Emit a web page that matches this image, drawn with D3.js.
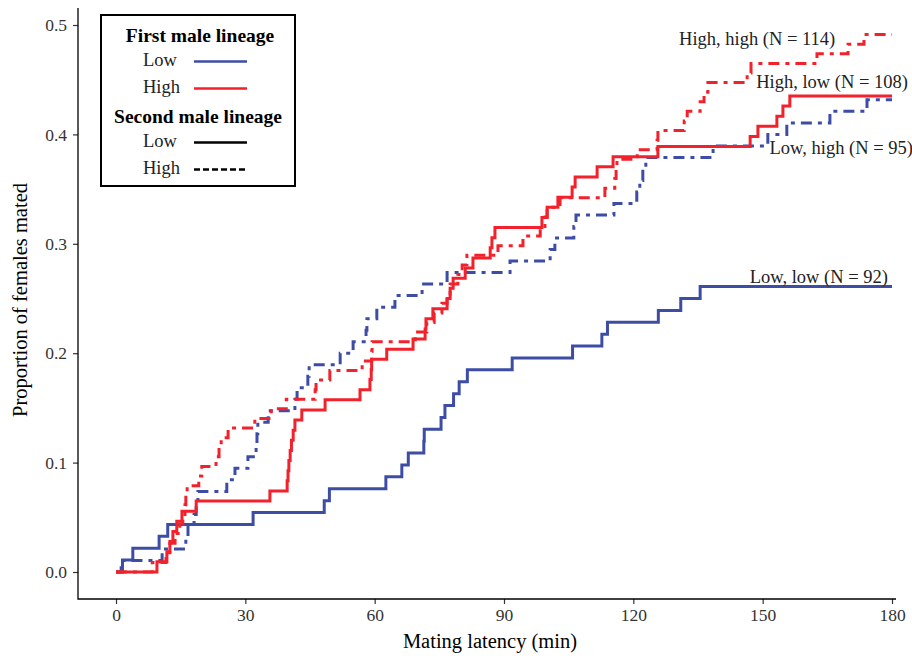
<!DOCTYPE html>
<meta charset="utf-8">
<head>
  <title>Mating latency curves</title>
</head>
<style>
body { margin: 0; background: white; }
svg text { font-family: "Liberation Serif", "Times New Roman", serif; }
</style>
<body>
<svg width="912" height="656"></svg>
<script src="https://cdnjs.cloudflare.com/ajax/libs/d3/7.8.5/d3.min.js"></script>
<script>
// mating times (min) of each female, one entry per event
var lowLow = [1.5, 3.9, 10.0, 12.0, 31.8, 48.3, 49.5, 62.6, 66.3, 67.8, 71.4, 71.5, 75.4, 76.3,
  78.3, 79.6, 81.5, 91.9, 105.9, 112.7, 114.0, 125.8, 131.0, 135.5];
var lowHigh = [1.2, 10.7, 16.2, 16.7, 18.1, 18.6, 19.0, 25.7, 27.6, 30.6, 32.5, 32.7, 32.9, 35.3,
  41.5, 42.0, 44.5, 44.8, 52.0, 55.0, 58.0, 58.2, 60.5, 64.7, 71.0, 76.8, 91.4, 100.7, 101.8,
  106.2, 106.7, 115.5, 120.8, 121.5, 122.2, 122.9, 138.5, 151.2, 155.6, 165.6, 174.2];
var highLow = [9.5, 11.8, 12.5, 13.2, 14.1, 15.3, 18.6, 35.7, 39.7, 39.9, 40.1, 40.4, 40.7, 41.1,
  41.5, 43.1, 48.5, 56.6, 58.9, 59.2, 59.3, 62.8, 68.9, 71.7, 71.9, 73.5, 76.8, 77.5, 78.2, 81.0,
  82.8, 86.8, 87.2, 87.9, 98.8, 100.0, 102.5, 105.8, 106.5, 111.6, 115.3, 125.7, 147.1, 148.9,
  153.3, 154.7, 156.3];
var highHigh = [8.4, 11.6, 12.5, 13.7, 14.8, 15.5, 16.0, 16.2, 16.5, 19.2, 19.9, 23.2, 23.9, 24.4,
  26.0, 32.2, 36.0, 39.5, 46.2, 46.4, 49.6, 57.1, 59.3, 59.4, 69.4, 72.1, 73.8, 75.6, 76.8, 77.5,
  79.3, 80.3, 81.4, 88.6, 94.4, 98.4, 99.5, 100.0, 103.0, 113.4, 115.7, 116.0, 116.2, 120.9,
  125.5, 125.7, 131.8, 132.5, 135.5, 136.4, 137.3, 146.4, 147.3, 162.6, 169.8, 173.5];

var groups = ["Low, low", "Low, high", "High, low", "High, high"];
var sampleN = [92, 95, 108, 114];
var firstLineage = ["Low", "Low", "High", "High"];
var secondLineage = ["Low", "High", "Low", "High"];
var times = [lowLow, lowHigh, highLow, highHigh];

var xTicks = [0, 30, 60, 90, 120, 150, 180];
var yTicks = [0, 0.1, 0.2, 0.3, 0.4, 0.5];

var colour = { Low: "#3d4da6", High: "#f2212b" };
var dash = { Low: null, High: "11,6,4,6" };
var serif = "'Liberation Serif', 'Times New Roman', serif";

var svg = d3.select("svg");
var x = d3.scaleLinear().domain([0, 180]).range([116, 892]);
var y = d3.scaleLinear().domain([0, 0.5]).range([572, 25]);

// axes
svg.append("g")
  .attr("transform", "translate(0,599)")
  .call(d3.axisBottom(x).tickValues(xTicks).tickSize(5).tickPadding(5).tickFormat(d3.format("d")));
svg.append("g")
  .attr("transform", "translate(78,0)")
  .call(d3.axisLeft(y).tickValues(yTicks).tickSize(5).tickPadding(6).tickFormat(d3.format(".1f")));
svg.selectAll(".domain").remove();
svg.selectAll(".tick text")
  .style("font-family", serif)
  .style("font-size", "17.5px")
  .attr("fill", "#333");
svg.selectAll(".tick line").attr("stroke", "#333").attr("stroke-width", 1.2);
svg.append("path").attr("d", "M78,8V599H896").attr("fill", "none").attr("stroke", "black").attr("stroke-width", 1.3);

svg.append("text").attr("x", 490).attr("y", 648).attr("text-anchor", "middle")
  .style("font-size", "20.5px").text("Mating latency (min)");
svg.append("text").attr("transform", "translate(27,300) rotate(-90)").attr("text-anchor", "middle")
  .style("font-size", "20.5px").text("Proportion of females mated");

// step curves
var line = d3.line()
  .x(function(d) { return x(d[0]); })
  .y(function(d) { return y(d[1]); })
  .curve(d3.curveStepAfter);

groups.forEach(function(g, i) {
  var n = sampleN[i];
  var pts = [[0, 0]];
  times[i].forEach(function(t, k) { pts.push([t, (k + 1) / n]); });
  pts.push([180, times[i].length / n]);
  svg.append("path")
    .datum(pts)
    .attr("d", line)
    .attr("fill", "none")
    .attr("stroke", colour[firstLineage[i]])
    .attr("stroke-width", 3)
    .attr("stroke-dasharray", dash[secondLineage[i]]);
});

// end labels
var labelPos = [[147.0, 0.264], [151.6, 0.382], [148.5, 0.442], [130.6, 0.482]];
groups.forEach(function(g, i) {
  svg.append("text")
    .attr("x", x(labelPos[i][0]))
    .attr("y", y(labelPos[i][1]))
    .style("font-size", "18.5px")
    .attr("fill", "#222")
    .text(g + " (N = " + sampleN[i] + ")");
});

// legend
var lg = svg.append("g");
lg.append("rect").attr("x", 101).attr("y", 15).attr("width", 194).attr("height", 171)
  .attr("fill", "white").attr("stroke", "black").attr("stroke-width", 2);
lg.append("text").attr("x", 200).attr("y", 42).attr("text-anchor", "middle")
  .style("font-size", "19.5px").style("font-weight", "bold").text("First male lineage");
lg.append("text").attr("x", 198).attr("y", 123).attr("text-anchor", "middle")
  .style("font-size", "19.5px").style("font-weight", "bold").text("Second male lineage");
var keys = [
  { label: "Low", y: 61.5, stroke: colour.Low, dash: null },
  { label: "High", y: 88.5, stroke: colour.High, dash: null },
  { label: "Low", y: 142.5, stroke: "black", dash: null },
  { label: "High", y: 169.5, stroke: "black", dash: "6,3" }
];
keys.forEach(function(k) {
  lg.append("text").attr("x", 143).attr("y", k.y + 4).style("font-size", "18.5px").attr("fill", "#222").text(k.label);
  lg.append("line").attr("x1", 194).attr("x2", 247).attr("y1", k.y).attr("y2", k.y)
    .attr("stroke", k.stroke).attr("stroke-width", 2.5).attr("stroke-dasharray", k.dash);
});
</script>
</body>
</html>
